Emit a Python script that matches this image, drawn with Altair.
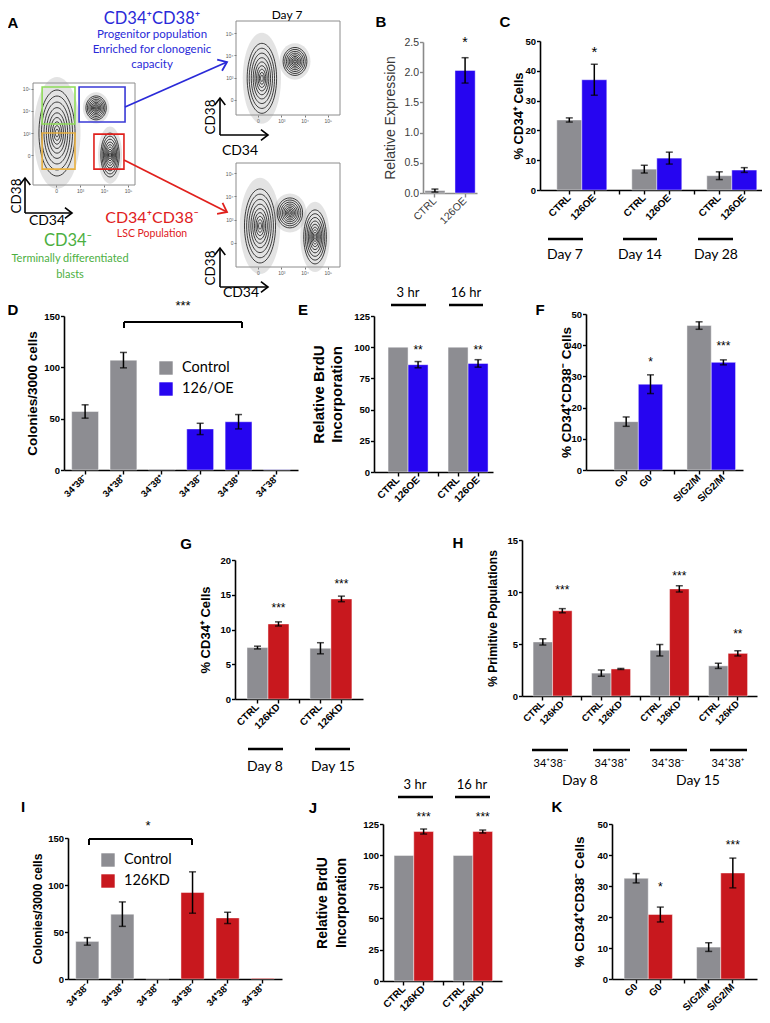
import json
import altair as alt
import pandas as pd

# ---------------- page geometry ----------------
OX, OY = 8, 8          # page margin
W, H = 754, 1007       # chart size (770x1023 window minus margins)

GREY, BLUE, RED = "#8d8d92", "#2605f0", "#c8181e"
ARIAL, CAL = "Liberation Sans", "Lato"
COLORS = alt.Scale(domain=["ctrl", "oe", "kd"], range=[GREY, BLUE, RED])

# ---------------- data ----------------
b_labels = ["CTRL", "126OE"]
b_values = [0.04, 2.03]
b_errors = [0.025, 0.21]
b_groups = ["ctrl", "oe"]
b_stars = ["", "*"]
b_star_lv = [None, 2.53]

c_labels = ["CTRL", "126OE", "", "CTRL", "126OE", "", "CTRL", "126OE"]
c_values = [23.5, 37.0, None, 7.0, 10.7, None, 4.8, 6.7]
c_errors = [0.7, 5.2, None, 1.3, 2.0, None, 1.3, 0.8]
c_groups = ["ctrl", "oe", "ctrl", "ctrl", "oe", "ctrl", "ctrl", "oe"]
c_stars = ["", "*", "", "", "", "", "", ""]
c_star_lv = [None, 47.3, None, None, None, None, None, None]
c_days = ["Day 7", "Day 14", "Day 28"]

d_labels = ["34⁺38⁻", "34⁺38⁺", "34⁻38⁺", "34⁺38⁻", "34⁺38⁺", "34⁻38⁺"]
d_values = [57, 107, 0.8, 40, 47, 0.3]
d_errors = [6.5, 7.5, 0, 5.5, 7, 0]
d_groups = ["ctrl", "ctrl", "ctrl", "oe", "oe", "oe"]
d_stars = ["", "", "", "", "", ""]
d_star_lv = [None] * 6
d_legend = ["Control", "126/OE"]

e_labels = ["CTRL", "126OE", "", "CTRL", "126OE"]
e_values = [100, 86, None, 100, 87]
e_errors = [0, 2.5, None, 0, 3.0]
e_groups = ["ctrl", "oe", "ctrl", "ctrl", "oe"]
e_stars = ["", "**", "", "", "**"]
e_star_lv = [None, 100.5, None, None, 100.5]
e_times = ["3 hr", "16 hr"]

f_labels = ["G0", "G0", "", "S/G2/M", "S/G2/M"]
f_values = [15.5, 27.5, None, 46.3, 34.5]
f_errors = [1.5, 3.0, None, 1.2, 0.8]
f_groups = ["ctrl", "oe", "ctrl", "ctrl", "oe"]
f_stars = ["", "*", "", "", "***"]
f_star_lv = [None, 35.6, None, None, 40.7]

g_labels = ["CTRL", "126KD", "", "CTRL", "126KD"]
g_values = [7.4, 10.8, None, 7.3, 14.4]
g_errors = [0.2, 0.3, None, 0.8, 0.4]
g_groups = ["ctrl", "kd", "ctrl", "ctrl", "kd"]
g_stars = ["", "***", "", "", "***"]
g_star_lv = [None, 13.5, None, None, 17.0]
g_days = ["Day 8", "Day 15"]

h_labels = ["CTRL", "126KD", "", "CTRL", "126KD", "", "CTRL", "126KD", "", "CTRL", "126KD"]
h_values = [5.2, 8.2, None, 2.2, 2.6, None, 4.4, 10.3, None, 2.9, 4.1]
h_errors = [0.3, 0.2, None, 0.3, 0.05, None, 0.55, 0.3, None, 0.25, 0.25]
h_groups = ["ctrl", "kd", "ctrl", "ctrl", "kd", "ctrl", "ctrl", "kd", "ctrl", "ctrl", "kd"]
h_stars = ["", "***", "", "", "", "", "", "***", "", "", "**"]
h_star_lv = [None, 10.5, None, None, None, None, None, 11.8, None, None, 6.25]
h_pops = ["34⁺38⁻", "34⁺38⁺", "34⁺38⁻", "34⁺38⁺"]
h_days = ["Day 8", "Day 15"]

i_labels = d_labels
i_values = [40, 69, 0.3, 92, 65, 0.8]
i_errors = [4, 13, 0, 22, 6, 0]
i_groups = ["ctrl", "ctrl", "ctrl", "kd", "kd", "kd"]
i_stars = ["", "", "", "", "", ""]
i_star_lv = [None] * 6
i_legend = ["Control", "126KD"]

j_labels = ["CTRL", "126KD", "", "CTRL", "126KD"]
j_values = [100, 119, None, 100, 119]
j_errors = [0, 2.0, None, 0, 1.2]
j_groups = ["ctrl", "kd", "ctrl", "ctrl", "kd"]
j_stars = ["", "***", "", "", "***"]
j_star_lv = [None, 133, None, None, 133]
j_times = ["3 hr", "16 hr"]

k_labels = ["G0", "G0", "", "S/G2/M", "S/G2/M"]
k_values = [32.5, 20.8, None, 10.3, 34.2]
k_errors = [1.5, 2.4, None, 1.4, 4.8]
k_groups = ["ctrl", "kd", "ctrl", "ctrl", "kd"]
k_stars = ["", "*", "", "", "***"]
k_star_lv = [None, 30.6, None, None, 44.2]

# flow-cytometry schematic (display units: 0, 10^3, 10^4, 10^5 -> 0,1,2,3)
flow_ticks = [0, 1, 2, 3]
main_gates = {  # x0, x1, y0, y1
    "#8fdc5a": (-0.58, 0.79, 1.41, 3.09),
    "#3a3ad6": (0.96, 2.875, 1.5, 3.09),
    "#e8b040": (-0.58, 0.79, -0.64, 1.0),
    "#e0201c": (1.58, 2.83, -0.64, 0.95),
}
main_pops = [(0.04, 1.0, 43, "tall"), (2.25, 0.0, 22, "tall"), (1.67, 2.14, 12, "round")]
tr_pops = [(0.17, 0.97, 35, "tall"), (1.59, 1.73, 14, "round")]
br_pops = [(0.09, 0.73, 37, "tall"), (2.45, 0.26, 27, "tall"), (1.37, 1.29, 15, "round")]

# ---------------- helpers ----------------
CX = alt.Scale(domain=[0, 770], range=[-OX, 770 - OX], nice=False, zero=False)
CY = alt.Scale(domain=[0, 1023], range=[-OY, 1023 - OY], nice=False, zero=False)


def cx(f="x"):
    return alt.X(f"{f}:Q", scale=CX, axis=None)


def cy(f="y"):
    return alt.Y(f"{f}:Q", scale=CY, axis=None)


def ctext(xs, ys, texts, **kw):
    df = pd.DataFrame({"x": xs, "y": ys, "t": texts})
    kw.setdefault("baseline", "middle")
    return alt.Chart(df).mark_text(**kw).encode(x=cx(), y=cy(), text="t:N")


def clines(x1, y1, x2, y2, **kw):
    df = pd.DataFrame({"x": x1, "y": y1, "x2": x2, "y2": y2})
    return alt.Chart(df).mark_rule(**kw).encode(x=cx(), y=cy(), x2="x2:Q", y2="y2:Q")


CHEV = "M-1,-0.75 L0,0 L-1,0.75"


def carrows(x1, y1, x2, y2, color, width=1.6, head=230):
    df = pd.DataFrame({"x": x1, "y": y1, "x2": x2, "y2": y2})
    base = alt.Chart(df)
    line = base.mark_rule(color=color, strokeWidth=width).encode(x=cx(), y=cy(), x2="x2:Q", y2="y2:Q")
    tip = base.transform_calculate(
        ang="(atan2(datum.y2 - datum.y, datum.x2 - datum.x) * 180 / PI + 360) % 360"
    ).mark_point(shape=CHEV, filled=False, color=color, strokeWidth=width, size=head, opacity=1).encode(
        x=cx("x2"), y=cy("y2"), angle=alt.Angle("ang:Q", scale=None))
    return [line, tip]


def panel(labels, values, errors, groups, stars, star_lv, geom, yvals, title, title_x,
          title_size=13, fmt="d", regular=False, xlab=10, ylab=9.5, star_size=13, cap=7,
          title_lh=None):
    x0, x1, ybot, ytop, ymax, pi, po, al = geom
    wt = "normal" if regular else "bold"
    lc = "#3a3a3a" if regular else "black"
    ac = "#8a8a8a" if regular else "black"
    keys = [f"k{i}" for i in range(len(labels))]
    lab_expr = json.dumps(labels, ensure_ascii=False) + "[toNumber(slice(datum.value, 1))]"
    df = pd.DataFrame({"key": keys, "value": values, "err": errors, "grp": groups,
                       "star": stars, "slev": star_lv})
    xs = alt.Scale(type="band", domain=keys, range=[x0 - OX, x1 - OX],
                   paddingInner=pi, paddingOuter=po, align=al)
    ys = alt.Scale(type="linear", domain=[0, ymax], range=[ybot - OY, ytop - OY],
                   nice=False, zero=False)
    xa = alt.Axis(orient="bottom", offset=(ybot - OY) - H, title=None, labelAngle=-45,
                  labelAlign="right", labelBaseline="middle", labelFont=ARIAL,
                  labelFontWeight=wt, labelFontSize=xlab, labelColor=lc, labelPadding=2,
                  labelOverlap=False, labelBound=False, labelExpr=lab_expr, tickSize=4,
                  tickWidth=1.4, tickColor=ac, domainColor=ac, domainWidth=1.6)
    yk = dict(orient="left", offset=-(x0 - OX), values=yvals, format=fmt, title=title,
              titleX=title_x, titleBaseline="middle", titleAngle=270, titleFont=ARIAL,
              titleFontWeight=wt, titleFontSize=title_size, titleColor=lc,
              labelFont=ARIAL, labelFontWeight=wt, labelFontSize=ylab, labelColor=lc,
              labelPadding=1, tickSize=3.5, tickWidth=1.4, tickColor=ac, domainColor=ac,
              domainWidth=1.6, labelFlush=False, labelOverlap=False)
    if title_lh:
        yk["titleLineHeight"] = title_lh
    ya = alt.Axis(**yk)
    Xn = alt.X("key:N", scale=xs, axis=None, sort=None)
    base = alt.Chart(df)
    bars = base.mark_bar(stroke="white", strokeOpacity=0.45, strokeWidth=1).encode(
        x=alt.X("key:N", scale=xs, axis=xa, sort=None),
        y=alt.Y("value:Q", scale=ys, axis=ya),
        color=alt.Color("grp:N", scale=COLORS, legend=None))
    eb = base.transform_filter("datum.err > 0").transform_calculate(
        lo="datum.value - datum.err", hi="datum.value + datum.err")
    rule = eb.mark_rule(color="black", strokeWidth=1.5).encode(
        x=Xn, y=alt.Y("lo:Q", scale=ys, axis=None), y2="hi:Q")
    cap_lo = eb.mark_tick(orient="horizontal", size=cap, thickness=1.5, color="black").encode(
        x=Xn, y=alt.Y("lo:Q", scale=ys, axis=None))
    cap_hi = eb.mark_tick(orient="horizontal", size=cap, thickness=1.5, color="black").encode(
        x=Xn, y=alt.Y("hi:Q", scale=ys, axis=None))
    st = base.transform_filter("datum.star != ''").mark_text(
        font=ARIAL, fontSize=star_size, baseline="middle", dy=3, color="black").encode(
        x=Xn, y=alt.Y("slev:Q", scale=ys, axis=None), text="star:N")
    return [bars, rule, cap_lo, cap_hi, st]


TALL = "M0,-1 A0.42,1 0 1,1 0,1 A0.42,1 0 1,1 0,-1 Z"
ROUND = "M0,-1 A0.85,1 0 1,1 0,1 A0.85,1 0 1,1 0,-1 Z"
LEVELS = [1.0, 0.86, 0.72, 0.59, 0.47, 0.36, 0.26, 0.17, 0.09]
LOGLAB = "datum.value == 0 ? '0' : datum.value == 1 ? '10³' : datum.value == 2 ? '10⁴' : '10⁵'"


def flow(frame, xdom, ydom, pops, gates=None):
    fx0, fy0, fx1, fy1 = frame
    xs = alt.Scale(domain=xdom, range=[fx0 - OX, fx1 - OX], nice=False, zero=False)
    ys = alt.Scale(domain=ydom, range=[fy1 - OY, fy0 - OY], nice=False, zero=False)
    ax = dict(values=flow_ticks, labelExpr=LOGLAB, labelFontSize=5, labelColor="#555",
              labelFont=ARIAL, tickSize=2, tickColor="#777", domain=False, title=None,
              labelPadding=1, labelFlush=False, labelOverlap=False, grid=False)
    xa = alt.Axis(orient="bottom", offset=(fy1 - OY) - H, **ax)
    ya = alt.Axis(orient="left", offset=-(fx0 - OX), **ax)
    fr = pd.DataFrame({"x0": [xdom[0]], "x1": [xdom[1]], "y0": [ydom[0]], "y1": [ydom[1]]})
    layers = [alt.Chart(fr).mark_rect(fillOpacity=0, stroke="#8c8c8c", strokeWidth=1).encode(
        x=alt.X("x0:Q", scale=xs, axis=xa), x2="x1:Q",
        y=alt.Y("y0:Q", scale=ys, axis=ya), y2="y1:Q")]
    for kind, path in (("tall", TALL), ("round", ROUND)):
        rows = [(p[0], p[1], (2 * p[2] * f) ** 2) for p in pops if p[3] == kind for f in LEVELS]
        halo = [(p[0], p[1], (2 * p[2] * 1.3) ** 2) for p in pops if p[3] == kind]
        if not rows:
            continue
        hd = pd.DataFrame(halo, columns=["u", "v", "s"])
        layers.append(alt.Chart(hd).mark_point(shape=path, filled=True, color="#9a9a9a",
                                               opacity=0.28, strokeWidth=0).encode(
            x=alt.X("u:Q", scale=xs, axis=None), y=alt.Y("v:Q", scale=ys, axis=None),
            size=alt.Size("s:Q", scale=None)))
        cd = pd.DataFrame(rows, columns=["u", "v", "s"])
        layers.append(alt.Chart(cd).mark_point(shape=path, filled=False, color="#111",
                                               strokeWidth=0.8, opacity=1).encode(
            x=alt.X("u:Q", scale=xs, axis=None), y=alt.Y("v:Q", scale=ys, axis=None),
            size=alt.Size("s:Q", scale=None)))
    if gates:
        for col, (g0, g1, g2, g3) in gates.items():
            gd = pd.DataFrame({"a": [g0], "b": [g1], "c": [g2], "d": [g3]})
            layers.append(alt.Chart(gd).mark_rect(fillOpacity=0, stroke=col, strokeWidth=1.6).encode(
                x=alt.X("a:Q", scale=xs, axis=None), x2="b:Q",
                y=alt.Y("c:Q", scale=ys, axis=None), y2="d:Q"))
    return layers


def legend(xs_, ys_, grps, texts, tx):
    sq = alt.Chart(pd.DataFrame({"x": xs_, "y": ys_, "g": grps})).mark_square(
        size=180, opacity=1).encode(x=cx(), y=cy(), color=alt.Color("g:N", scale=COLORS, legend=None))
    return [sq, ctext([tx] * len(texts), ys_, texts, font=CAL, fontSize=14.5, align="left")]


# ---------------- panels ----------------
layers = []

# Panel A
layers += flow((33, 83, 135, 185), [-0.96, 3.29], [-1.36, 3.27], main_pops, main_gates)
layers += flow((236, 21, 340, 115), [-0.94, 3.52], [-0.68, 3.55], tr_pops)
layers += flow((236, 163, 340, 267), [-0.94, 3.52], [-1.03, 3.43], br_pops)
layers += carrows([25, 25, 220, 220, 220, 220], [213, 213, 135, 135, 287, 287],
                  [25, 72, 220, 268, 220, 268], [178, 213, 98, 135, 248, 287], "black", 1.6, 200)
layers += carrows([125], [107], [227], [62], "#2a2ad8", 1.8, 260)
layers += carrows([124], [160], [227], [212], "#e0201c", 1.8, 260)
layers.append(ctext([47, 240, 241], [221, 151, 293], ["CD34"] * 3, font=CAL, fontSize=14))
layers.append(ctext([17, 211, 211], [196, 117, 268], ["CD38"] * 3, font=CAL, fontSize=13.5, angle=270))
layers.append(ctext([287], [15], ["Day 7"], font=CAL, fontSize=12))
layers.append(ctext([152], [19], ["CD34⁺CD38⁺"], font=CAL, fontSize=16.5, color="#2a2ad8"))
layers.append(ctext([152, 152, 152], [35, 50, 65],
                    ["Progenitor population", "Enriched for clonogenic", "capacity"],
                    font=CAL, fontSize=11.5, color="#2a2ad8"))
layers.append(ctext([152], [218], ["CD34⁺CD38⁻"], font=CAL, fontSize=16, color="#e0201c"))
layers.append(ctext([152], [234], ["LSC Population"], font=CAL, fontSize=10.5, color="#e0201c"))
layers.append(ctext([68], [241], ["CD34⁻"], font=CAL, fontSize=16.5, color="#4caf3f"))
layers.append(ctext([70, 70], [259, 275], ["Terminally differentiated", "blasts"],
                    font=CAL, fontSize=11, color="#4caf3f"))

# Panel B
layers += panel(b_labels, b_values, b_errors, b_groups, b_stars, b_star_lv,
                (423, 477, 193, 42, 2.5, 0.33, 0.06, 0.5), [0, 0.5, 1, 1.5, 2, 2.5],
                "Relative Expression", -33, title_size=14, fmt=".1f", regular=True,
                xlab=10.5, ylab=10.5, star_size=14)
# Panel C
layers += panel(c_labels, c_values, c_errors, c_groups, c_stars, c_star_lv,
                (540, 768, 190, 41, 50, 0, 0.56, 0.6), [0, 10, 20, 30, 40, 50],
                "% CD34⁺ Cells", -22, title_size=13, star_size=15)
layers.append(clines([548, 623, 698], [239] * 3, [583, 657, 733], [239] * 3,
                     color="black", strokeWidth=2.5))
layers.append(ctext([565, 640, 716], [255] * 3, c_days, font=CAL, fontSize=14))
# Panel D
layers += panel(d_labels, d_values, d_errors, d_groups, d_stars, d_star_lv,
                (64, 298, 470, 316, 150, 0.3, 0.2, 0.5), [0, 50, 100, 150],
                "Colonies/3000 cells", -32, title_size=13.5, xlab=9.5)
layers.append(clines([124, 124, 242], [322, 322, 322], [242, 124, 242], [322, 328, 328],
                     color="black", strokeWidth=2))
layers.append(ctext([183], [306], ["***"], font=ARIAL, fontSize=13))
layers += legend([166, 166], [368, 389], ["ctrl", "oe"], d_legend, 182)
# Panel E
layers += panel(e_labels, e_values, e_errors, e_groups, e_stars, e_star_lv,
                (374, 493, 472, 316, 125, 0, 0.475, 0.74), [0, 25, 50, 75, 100, 125],
                ["Relative BrdU", "Incorporation"], -56, title_size=15, star_size=12,
                title_lh=18)
layers.append(ctext([408, 466], [293, 293], e_times, font=CAL, fontSize=13))
layers.append(clines([391, 449], [305, 305], [426, 483], [305, 305], color="black", strokeWidth=2.5))
# Panel F
layers += panel(f_labels, f_values, f_errors, f_groups, f_stars, f_star_lv,
                (586, 743, 470, 314, 50, 0, 0.73, 0.79), [0, 10, 20, 30, 40, 50],
                "% CD34⁺CD38⁻ Cells", -20, title_size=13.5, star_size=12)
# Panel G
layers += panel(g_labels, g_values, g_errors, g_groups, g_stars, g_star_lv,
                (235, 363, 699, 560, 20, 0, 0.55, 0.52), [0, 5, 10, 15, 20],
                "% CD34⁺ Cells", -30, title_size=13, star_size=12)
layers.append(clines([248, 315], [749, 749], [283, 350], [749, 749], color="black", strokeWidth=2.5))
layers.append(ctext([265, 333], [767, 767], g_days, font=CAL, fontSize=14))
# Panel H
layers += panel(h_labels, h_values, h_errors, h_groups, h_stars, h_star_lv,
                (522, 757, 696, 540, 15, 0, 0.526, 0.54), [0, 5, 10, 15],
                "% Primitive Populations", -30, title_size=12, xlab=9.5, star_size=12)
layers.append(clines([532, 593, 650, 710], [750] * 4, [568, 630, 687, 747], [750] * 4,
                     color="black", strokeWidth=2.5))
layers.append(ctext([550, 611, 668, 728], [764] * 4, h_pops, font=CAL, fontSize=11))
layers.append(ctext([580, 698], [781, 781], h_days, font=CAL, fontSize=14))
# Panel I
layers += panel(i_labels, i_values, i_errors, i_groups, i_stars, i_star_lv,
                (68, 282, 979, 838, 150, 0.34, 0.22, 0.5), [0, 50, 100, 150],
                "Colonies/3000 cells", -31, title_size=12, xlab=9.5)
layers.append(clines([89, 89, 192], [839, 839, 839], [192, 89, 192], [839, 845, 845],
                     color="black", strokeWidth=2))
layers.append(ctext([148], [826], ["*"], font=ARIAL, fontSize=13))
layers += legend([108, 108], [860, 881], ["ctrl", "kd"], i_legend, 124)
# Panel J
layers += panel(j_labels, j_values, j_errors, j_groups, j_stars, j_star_lv,
                (383, 502, 981, 824, 125, 0, 0.52, 0.54), [0, 25, 50, 75, 100, 125],
                ["Relative BrdU", "Incorporation"], -61, title_size=14, star_size=12,
                title_lh=19)
layers.append(ctext([415, 472], [785, 785], j_times, font=CAL, fontSize=13))
layers.append(clines([398, 455], [797, 797], [433, 490], [797, 797], color="black", strokeWidth=2.5))
# Panel K
layers += panel(k_labels, k_values, k_errors, k_groups, k_stars, k_star_lv,
                (612, 757, 979, 824, 50, 0, 0.5, 0.5), [0, 10, 20, 30, 40, 50],
                "% CD34⁺CD38⁻ Cells", -33, title_size=13.5, star_size=12)

# Panel letters
layers.append(ctext([13, 381, 505, 13, 303, 540, 186, 458, 23, 313, 557],
                    [23, 22, 22, 310, 310, 310, 544, 543, 807, 808, 807],
                    list("ABCDEFGHIJK"), font=ARIAL, fontSize=15, fontWeight="bold"))

chart = (alt.layer(*layers)
         .resolve_scale(x="independent", y="independent")
         .resolve_axis(x="independent", y="independent")
         .properties(width=W, height=H, autosize=alt.AutoSizeParams(type="none"), padding=0)
         .configure_view(stroke=None)
         .configure_axis(grid=False))

chart.save("out.html", embed_options={"renderer": "svg", "actions": False})
